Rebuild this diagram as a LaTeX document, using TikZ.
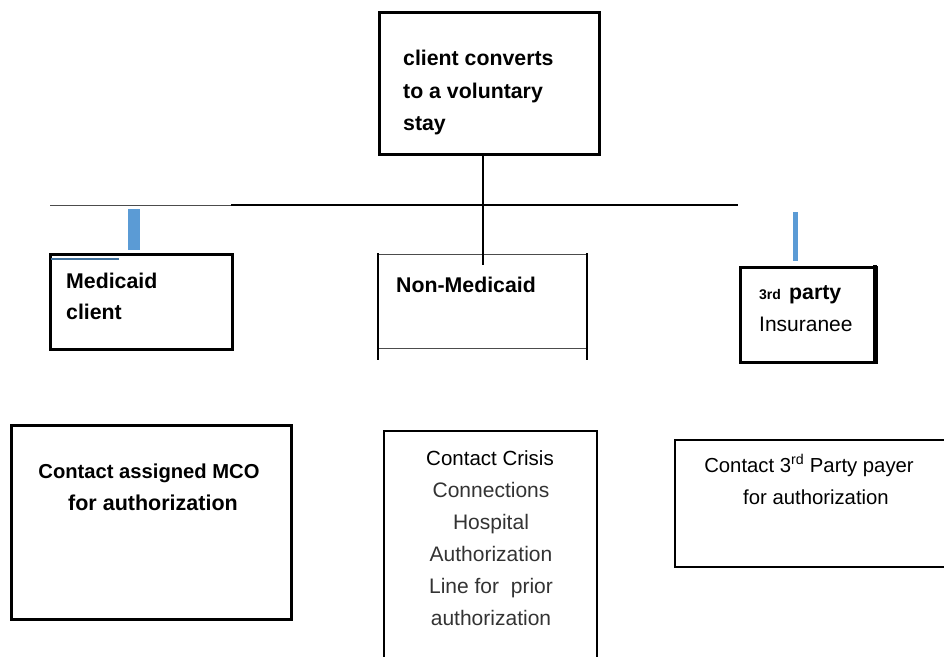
\documentclass[tikz,border=0pt]{standalone}
\usepackage{fontspec}
\setmainfont{Liberation Sans}
\definecolor{barblue}{HTML}{5B9BD5}
\definecolor{darkblue}{HTML}{41719C}
\begin{document}
\begin{tikzpicture}[x=1pt,y=-1pt,
  thinline/.style={line width=1pt, draw=black!70},
  boxshape/.style={draw, line width=2.8pt, inner sep=0pt, anchor=north west},
  emptynode/.style={inner sep=0pt, anchor=north west},
  lbl/.style={inner sep=0pt, anchor=base, font=\fontsize{21}{32}\selectfont},
  lbll/.style={inner sep=0pt, anchor=base west, font=\fontsize{21}{32}\selectfont},
  blbl/.style={lbll, font=\fontsize{21.3}{32}\selectfont\bfseries},
  blblc/.style={lbl, font=\fontsize{20.2}{32}\selectfont\bfseries},
  grey/.style={text=black!80}]
\useasboundingbox (0,0) rectangle (944,656);

% top box
\node[boxshape, minimum width=220pt, minimum height=142pt] (top) at (378,11) {};
\node[blbl] (top1) at (403,65) {client\ converts};
\node[blbl] (top2) at (403,98) {to a voluntary};
\node[blbl] (top3) at (403,130) {stay};

% horizontal bus
\coordinate (busL) at (50,205);
\coordinate (busM) at (231,205);
\coordinate (busR) at (738,205);
\draw[thinline] (busL) -- (busM);
\draw[line width=2.8pt] (busM) -- (busR);

% Medicaid box
\node[boxshape, minimum width=182pt, minimum height=95pt] (med) at (49,253) {};
\fill[barblue] (128,209) rectangle (140,250);
\draw[darkblue, line width=2.5pt] (51,259) -- (119,259);
\node[blbl] (med1) at (66,288) {Medicaid};
\node[blbl] (med2) at (66,319) {client};

% Non-Medicaid box
\node[emptynode, minimum width=210pt, minimum height=94pt] (nm) at (378,254) {};
\draw[thinline] (377,254) -- (588,254);
\draw[thinline] (378,348) -- (588,348);
\draw[line width=2.8pt] (378,253) -- (378,360);
\draw[line width=2.8pt] (587,253) -- (587,360);
\node[blbl] (nm1) at (396,292) {Non-Medicaid};

% vertical connector from top box
\coordinate (drop) at (483,265);
\draw[line width=2.8pt] (top.south -| drop) -- (drop);

% 3rd party box
\node[boxshape, minimum width=136pt, minimum height=95pt] (tp) at (739,266) {};
\draw[line width=3.6pt] (875,265) -- (875,363);
\fill[barblue] (793,212) rectangle (798,261);
\node[inner sep=0pt, anchor=base west, font=\fontsize{14}{16}\selectfont\bfseries] (tp0) at (759,299) {3rd};
\node[blbl] (tp1) at (789,299) {party};
\node[lbll] (tp2) at (759,331) {Insuranee};

% bottom left box
\node[boxshape, minimum width=280pt, minimum height=194pt] (bl) at (10,424) {};
\node[blblc] (bl1) at (149,478) {Contact assigned MCO};
\node[blblc, font=\fontsize{21.5}{32}\selectfont\bfseries] (bl2) at (153,510) {for authorization};

% bottom middle box
\node[emptynode, minimum width=213pt, minimum height=225pt] (bm) at (384,431) {};
\draw[line width=2.8pt] (384,660) -- (384,431) -- (597,431) -- (597,660);
\node[lbl, font=\fontsize{20.5}{32}\selectfont] (bm1) at (490,465) {Contact Crisis};
\node[lbl, grey] (bm2) at (491,497) {Connections};
\node[lbl, grey] (bm3) at (491,529) {Hospital};
\node[lbl, grey] (bm4) at (491,561) {Authorization};
\node[lbl, grey] (bm5) at (491,593) {Line for\ \ prior};
\node[lbl, grey] (bm6) at (491,625) {authorization};

% bottom right box
\node[emptynode, minimum width=275pt, minimum height=127pt] (br) at (675,440) {};
\draw[line width=2.8pt] (950,440) -- (675,440) -- (675,567) -- (950,567);
\node[lbl, font=\fontsize{20.3}{32}\selectfont] (br1) at (809,472) {Contact 3\textsuperscript{rd} Party payer};
\node[lbl, font=\fontsize{20.3}{32}\selectfont] (br2) at (816,504) {for authorization};
\end{tikzpicture}
\end{document}
